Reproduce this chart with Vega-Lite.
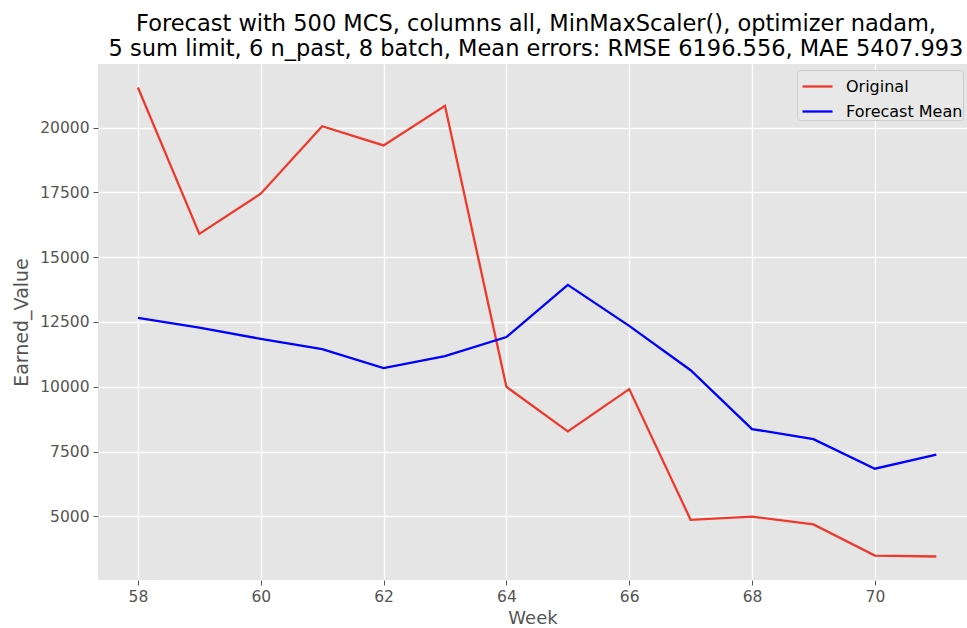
{
  "$schema": "https://vega.github.io/schema/vega-lite/v6.json",
  "width": 869,
  "height": 516,
  "autosize": {"type": "none"},
  "padding": {"left": 98, "top": 64, "right": 0, "bottom": 48},
  "background": "white",
  "title": {
    "text": ["Forecast with 500 MCS, columns all, MinMaxScaler(), optimizer nadam,", "5 sum limit, 6 n_past, 8 batch, Mean errors: RMSE 6196.556, MAE 5407.993"],
    "font": "DejaVu Sans",
    "fontSize": 22.5,
    "fontWeight": "normal",
    "color": "#000000",
    "anchor": "middle",
    "dx": 3.5,
    "lineHeight": 25,
    "offset": 4
  },
  "config": {
    "view": {"fill": "#E5E5E5", "stroke": null},
    "font": "DejaVu Sans"
  },
  "data": {
    "values": [
      {"week": 58, "series": "Original", "value": 21545},
      {"week": 59, "series": "Original", "value": 15900},
      {"week": 60, "series": "Original", "value": 17450},
      {"week": 61, "series": "Original", "value": 20050},
      {"week": 62, "series": "Original", "value": 19310},
      {"week": 63, "series": "Original", "value": 20840},
      {"week": 64, "series": "Original", "value": 10000},
      {"week": 65, "series": "Original", "value": 8280},
      {"week": 66, "series": "Original", "value": 9910},
      {"week": 67, "series": "Original", "value": 4870},
      {"week": 68, "series": "Original", "value": 4990},
      {"week": 69, "series": "Original", "value": 4690},
      {"week": 70, "series": "Original", "value": 3490},
      {"week": 71, "series": "Original", "value": 3455},
      {"week": 58, "series": "Forecast Mean", "value": 12660},
      {"week": 59, "series": "Forecast Mean", "value": 12280},
      {"week": 60, "series": "Forecast Mean", "value": 11850},
      {"week": 61, "series": "Forecast Mean", "value": 11450},
      {"week": 62, "series": "Forecast Mean", "value": 10720},
      {"week": 63, "series": "Forecast Mean", "value": 11180},
      {"week": 64, "series": "Forecast Mean", "value": 11920},
      {"week": 65, "series": "Forecast Mean", "value": 13930},
      {"week": 66, "series": "Forecast Mean", "value": 12350},
      {"week": 67, "series": "Forecast Mean", "value": 10640},
      {"week": 68, "series": "Forecast Mean", "value": 8370},
      {"week": 69, "series": "Forecast Mean", "value": 7980},
      {"week": 70, "series": "Forecast Mean", "value": 6840},
      {"week": 71, "series": "Forecast Mean", "value": 7380}
    ]
  },
  "mark": {"type": "line", "strokeWidth": 2.3, "clip": true},
  "encoding": {
    "x": {
      "field": "week",
      "type": "quantitative",
      "scale": {"domain": [57.35, 71.5], "nice": false, "zero": false},
      "axis": {
        "title": "Week",
        "values": [58, 60, 62, 64, 66, 68, 70],
        "grid": true,
        "gridColor": "#FFFFFF",
        "gridWidth": 1.3,
        "domain": false,
        "tickColor": "#555555",
        "tickSize": 5,
        "tickWidth": 1,
        "labelColor": "#555555",
        "labelFontSize": 15.5,
        "labelPadding": 4,
        "labelFont": "DejaVu Sans",
        "titleFont": "DejaVu Sans",
        "titleFontSize": 18,
        "titleFontWeight": "normal",
        "titleColor": "#555555",
        "titlePadding": 5
      }
    },
    "y": {
      "field": "value",
      "type": "quantitative",
      "scale": {"domain": [2548, 22451], "nice": false, "zero": false},
      "axis": {
        "title": "Earned_Value",
        "values": [5000, 7500, 10000, 12500, 15000, 17500, 20000],
        "grid": true,
        "gridColor": "#FFFFFF",
        "gridWidth": 1.3,
        "domain": false,
        "tickColor": "#555555",
        "tickSize": 5,
        "tickWidth": 1,
        "labelColor": "#555555",
        "labelFontSize": 15.5,
        "labelPadding": 4,
        "labelFont": "DejaVu Sans",
        "titleFont": "DejaVu Sans",
        "titleFontSize": 19,
        "titleFontWeight": "normal",
        "titleColor": "#555555",
        "titlePadding": 8,
        "format": "d"
      }
    },
    "color": {
      "field": "series",
      "type": "nominal",
      "scale": {"domain": ["Original", "Forecast Mean"], "range": ["#EE3A2C", "#0000FF"]},
      "legend": {
        "title": null,
        "orient": "none",
        "legendX": 699,
        "legendY": 6,
        "fillColor": "#E8E8E8",
        "strokeColor": "#CCCCCC",
        "cornerRadius": 3,
        "padding": 0,
        "symbolType": "stroke",
        "symbolSize": 900,
        "symbolOffset": 4,
        "symbolStrokeWidth": 2.3,
        "rowPadding": -8,
        "labelFontSize": 16,
        "labelColor": "#000000",
        "labelFont": "DejaVu Sans",
        "labelOffset": 12
      }
    }
  }
}
